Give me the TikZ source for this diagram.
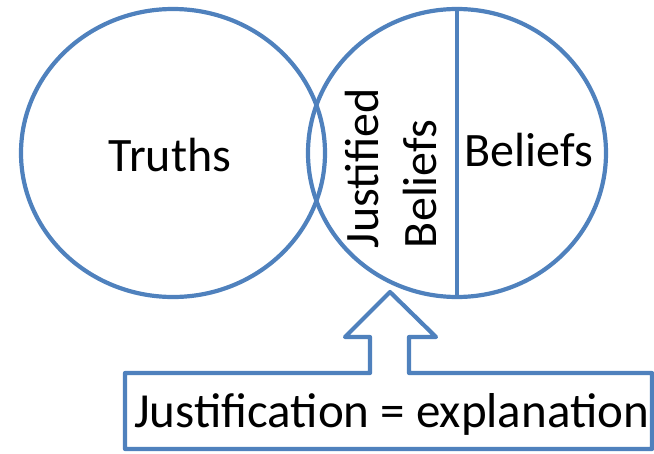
\documentclass[tikz,border=0pt]{standalone}
\usepackage{fontspec}
\setmainfont{Carlito}
\usetikzlibrary{shapes.geometric}
\definecolor{accent}{HTML}{4F81BD}
\tikzset{
  outline/.style={draw=accent, line width=4.2pt},
  venn/.style={outline, ellipse, inner sep=0pt},
  label/.style={font=\fontsize{48}{58}\selectfont, text=black, inner sep=0pt},
}
\begin{document}
\begin{tikzpicture}[x=1pt,y=-1pt]
\useasboundingbox (0,0) rectangle (654,453);
\node[venn, minimum width=304pt, minimum height=288pt] (lc) at (173,153) {};
\node[venn, minimum width=298pt, minimum height=288pt] (rc) at (457,153) {};
\draw[outline] (rc.north) -- (rc.south);
\node[label] (truths) at (170,155) {Truths};
\node[label, rotate=90, align=left, anchor=center] (jb) at (391,168) {Justified\\Beliefs};
\node[label] (beliefs) at (529,150) {Beliefs};
% callout box with arrow
\coordinate (tip) at (390,292);
\draw[outline, fill=white, line join=round]
  (125,449) -- (125,373) -- (370,373) -- (370,337) -- (345,337) -- (tip)
  -- (436,337) -- (409,337) -- (409,373) -- (652,373) -- (652,449) -- cycle;
\node[label, anchor=base west] (just) at (134,427) {\fontsize{49}{58}\selectfont Justification = explanation};
\end{tikzpicture}
\end{document}
